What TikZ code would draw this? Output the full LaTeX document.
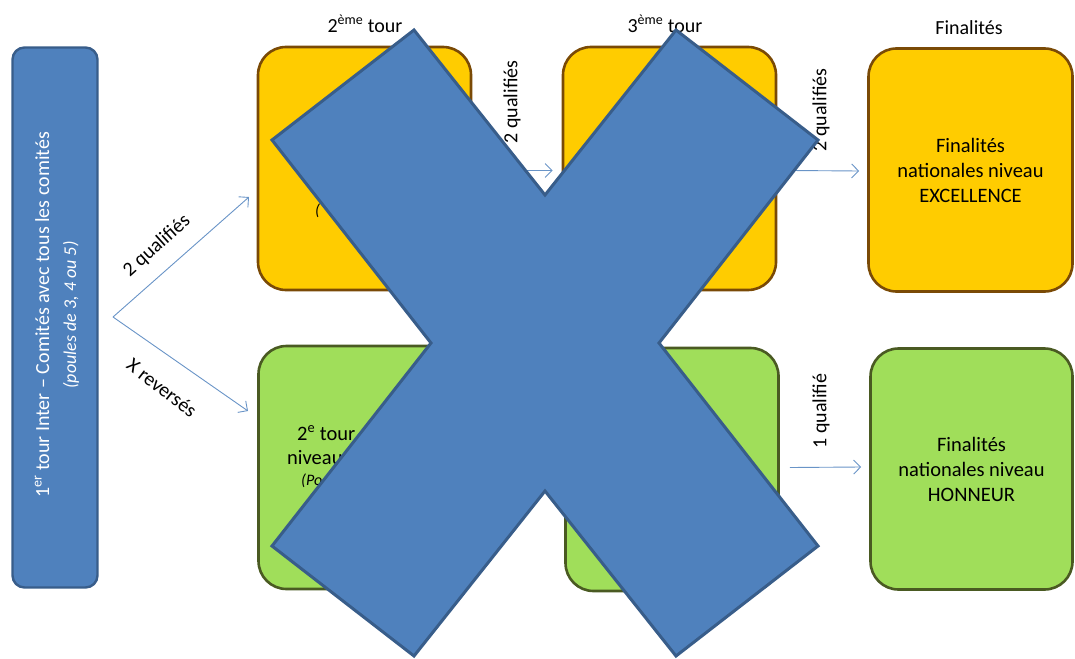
\documentclass[tikz,border=0pt]{standalone}
\usepackage{fontspec}
\setmainfont{Carlito}
\usetikzlibrary{arrows.meta,positioning}
\definecolor{bleuX}{HTML}{4F81BD}
\definecolor{bleuBord}{HTML}{385D8A}
\definecolor{jaune}{HTML}{FFCC00}
\definecolor{jauneBord}{HTML}{7A4A06}
\definecolor{vert}{HTML}{A0DE5A}
\definecolor{vertBord}{HTML}{4A5A22}
\tikzset{
  tourbox/.style={rounded corners=28pt, line width=2.6pt, minimum width=213pt,
    minimum height=243pt, align=center, inner sep=0pt,
    font=\fontsize{20.5}{25}\selectfont},
  excbox/.style={tourbox, fill=jaune, draw=jauneBord},
  honbox/.style={tourbox, fill=vert, draw=vertBord},
  fleche/.style={draw=bleuX!85, line width=0.9pt,
    -{Straight Barb[length=7pt,width=14pt]}},
  titre/.style={font=\fontsize{20}{24}\selectfont},
}
\begin{document}
\begin{tikzpicture}[x=1pt,y=-1pt]
  \useasboundingbox (0,0) rectangle (1075,658);

  % premier tour
  \node[fill=bleuX, draw=bleuBord, line width=2.4pt, rounded corners=12pt,
        minimum width=85pt, minimum height=540pt] (premier) at (55,317.5) {};
  \node[rotate=90, text=white, align=center, font=\fontsize{20}{27}\selectfont]
        (premierTxt) at (57,315) {1\textsuperscript{er} tour Inter -- Comités avec tous les comités\\
        {\fontsize{18}{27}\selectfont\itshape (poules de 3, 4 ou 5)}};

  % boites
  \node[excbox] (deuxExc) at (364.5,168.5) {};
  \node[excbox] (troisExc) at (669.5,168.5) {};
  \node[excbox, minimum width=204pt] (finExc) at (970.5,170)
        {Finalités\\nationales niveau\\EXCELLENCE};
  \node[honbox] (deuxHon) at (365,467.5) {};
  \node[honbox] (troisHon) at (672,469.5) {};
  \node[honbox, minimum width=202pt, minimum height=241pt] (finHon) at (971.5,469)
        {Finalités\\nationales niveau\\HONNEUR};

  % bouts de texte
  \node[font=\fontsize{20.5}{25}\selectfont, anchor=west, inner sep=0pt] (deuxHonA) at (297,433) {2\textsuperscript{e} tour};
  \node[font=\fontsize{20.5}{25}\selectfont, anchor=west, inner sep=0pt] (deuxHonB) at (287,458) {niveau};
  \node[anchor=west, inner sep=0pt, font=\fontsize{16}{18}\selectfont\itshape] (deuxHonC) at (301,481) {(Po};
  \node[anchor=west, inner sep=0pt, font=\fontsize{16}{18}\selectfont\itshape] (deuxExcC) at (315,211) {(};

  % titres
  \node[titre] (tDeux) at (365,24) {2\textsuperscript{ème} tour};
  \node[titre] (tTrois) at (665,24) {3\textsuperscript{ème} tour};
  \node[titre] (tFin) at (969,28) {Finalités};

  % fleches
  \coordinate (fourche) at (113,317);
  \coordinate (versExc) at (249,197);
  \coordinate (versHon) at (248,411);
  \draw[fleche] (fourche) -- (versExc);
  \draw[fleche] (fourche) -- (versHon);
  \node[titre, rotate=42] (lQual) at (157,246) {2 qualifiés};
  \node[titre, rotate=-38] (lRev) at (162,388) {X reversés};

  \draw[fleche] ([xshift=8pt,yshift=-2pt]deuxExc.east) -- ([xshift=-9pt,yshift=-2pt]troisExc.west);
  \draw[fleche] ([xshift=13pt,yshift=-2pt]troisExc.east) -- ([xshift=-8pt,yshift=-1pt]finExc.west);
  \draw[fleche] ([xshift=10pt,yshift=2pt]troisHon.east) -- ([xshift=-8pt,yshift=2pt]finHon.west);
  \node[titre, rotate=90] (lQual2) at (512,102) {2 qualifiés};
  \node[titre, rotate=90] (lQual3) at (821,110) {2 qualifiés};
  \node[titre, rotate=90] (lQual4) at (821,411) {1 qualifié};

  % la croix
  \draw[fill=bleuX, draw=bleuBord, line width=3pt]
    (272,140) -- (414,30) -- (545,195) -- (676,30) -- (818,140) -- (659,343)
    -- (818,546) -- (676,656) -- (545,491) -- (414,656) -- (272,546) -- (431,343)
    -- cycle;
\end{tikzpicture}
\end{document}
